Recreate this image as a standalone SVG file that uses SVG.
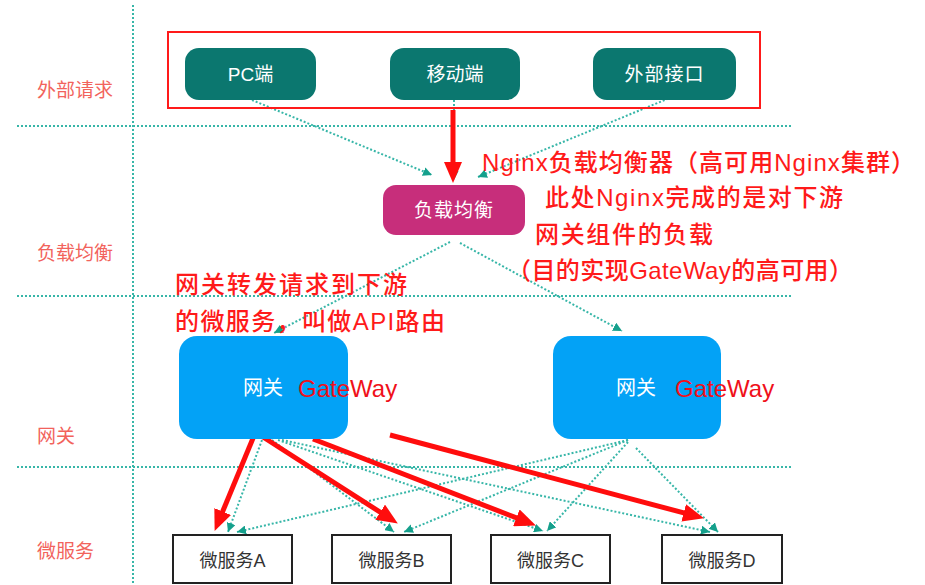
<svg xmlns="http://www.w3.org/2000/svg" width="925" height="585" viewBox="0 0 925 585">
<defs>
<style>
text{font-family:"Liberation Sans","Noto Sans CJK SC",sans-serif;}
.grid{stroke:#37b6a8;stroke-width:2;stroke-dasharray:2 2;fill:none;}
.dot{stroke:#37b6a8;stroke-width:2;stroke-dasharray:2 2;fill:none;marker-end:url(#ta);}
.red{stroke:#ff0d0d;stroke-width:5;fill:none;marker-end:url(#ra);}
.lane{fill:#f2635c;font-size:19px;}
.client{fill:#0b776f;}
.nt{fill:#ffffff;font-size:19px;text-anchor:middle;}
.gw{fill:#03a2f6;}
.ms{fill:#ffffff;stroke:#222;stroke-width:2;}
.mst{fill:#333;font-size:18px;text-anchor:middle;}
.ann{fill:#ff1a1a;font-size:24px;font-weight:500;}
.gwr{fill:#f0101a;font-size:24px;}
</style>
<marker id="ta" markerUnits="userSpaceOnUse" markerWidth="10" markerHeight="9" refX="9" refY="4.5" orient="auto">
<path d="M0,0 L9,4.5 L0,9 z" fill="#15a08c"/>
</marker>
<marker id="ra" markerUnits="userSpaceOnUse" markerWidth="22" markerHeight="18" refX="8" refY="9" orient="auto">
<path d="M0,0 L21,9 L0,18 z" fill="#ff0d0d"/>
</marker>
</defs>

<g id="grid">
<line class="grid" x1="133" y1="5" x2="133" y2="585"/>
<line class="grid" x1="17" y1="126" x2="792" y2="126"/>
<line class="grid" x1="17" y1="296" x2="792" y2="296"/>
<line class="grid" x1="17" y1="467" x2="792" y2="467"/>
</g>

<g id="lanes">
<text class="lane" x="37" y="97">外部请求</text>
<text class="lane" x="37" y="260">负载均衡</text>
<text class="lane" x="37" y="443">网关</text>
<text class="lane" x="37" y="558">微服务</text>
</g>

<g id="connectors">
<line class="dot" x1="252" y1="100" x2="432" y2="175"/>
<line class="dot" x1="454" y1="100" x2="454" y2="180"/>
<line class="dot" x1="672" y1="97" x2="478" y2="177"/>
<line class="dot" x1="450" y1="242" x2="274" y2="333"/>
<line class="dot" x1="460" y1="243" x2="622" y2="331"/>
<line class="dot" x1="262" y1="440" x2="228" y2="532"/>
<line class="dot" x1="272" y1="440" x2="394" y2="532"/>
<line class="dot" x1="278" y1="440" x2="543" y2="531"/>
<line class="dot" x1="282" y1="440" x2="710" y2="532"/>
<line class="dot" x1="628" y1="440" x2="237" y2="532"/>
<line class="dot" x1="628" y1="440" x2="404" y2="532"/>
<line class="dot" x1="628" y1="442" x2="547" y2="531"/>
<line class="dot" x1="636" y1="448" x2="718" y2="532"/>
<line class="red" x1="453" y1="110" x2="453" y2="170"/>
<line class="red" x1="256" y1="431" x2="219.6" y2="518.9"/>
<line class="red" x1="263" y1="437" x2="386.9" y2="516.5"/>
<line class="red" x1="313" y1="439" x2="523.8" y2="520.7"/>
<line class="red" x1="390" y1="435" x2="691.4" y2="514.9"/>
</g>

<g id="clients-box">
<rect x="168" y="32" width="592" height="76" fill="none" stroke="#ff1a1a" stroke-width="2"/>
</g>

<g id="pc">
<rect class="client" x="185" y="48" width="131" height="52" rx="14"/>
<text class="nt" x="250.5" y="81">PC端</text>
</g>
<g id="mobile">
<rect class="client" x="390" y="48" width="130" height="52" rx="14"/>
<text class="nt" x="455" y="81">移动端</text>
</g>
<g id="api">
<rect class="client" x="593" y="48" width="143" height="52" rx="14"/>
<text class="nt" x="664.5" y="81" letter-spacing="1">外部接口</text>
</g>

<g id="lb">
<rect x="383" y="185" width="142" height="50" rx="13" fill="#c72e7b"/>
<text class="nt" x="454" y="217" letter-spacing="1">负载均衡</text>
</g>

<g id="gw1">
<rect class="gw" x="179" y="336" width="169" height="103" rx="18"/>
<text x="243" y="395" fill="#ffffff" font-size="20">网关</text>
<text class="gwr" x="298" y="397">GateWay</text>
</g>
<g id="gw2">
<rect class="gw" x="553" y="336" width="168" height="103" rx="18"/>
<text x="616" y="395" fill="#ffffff" font-size="20">网关</text>
<text class="gwr" x="675" y="397">GateWay</text>
</g>

<g id="msA">
<rect class="ms" x="173" y="535" width="119" height="48"/>
<text class="mst" x="232.5" y="567">微服务A</text>
</g>
<g id="msB">
<rect class="ms" x="332" y="535" width="119" height="48"/>
<text class="mst" x="391.5" y="567">微服务B</text>
</g>
<g id="msC">
<rect class="ms" x="491" y="535" width="119" height="48"/>
<text class="mst" x="550.5" y="567">微服务C</text>
</g>
<g id="msD">
<rect class="ms" x="662" y="535" width="120" height="48"/>
<text class="mst" x="722" y="567">微服务D</text>
</g>

<g id="annotations">
<text class="ann" x="482" y="171" textLength="433" lengthAdjust="spacing">Nginx负载均衡器（高可用Nginx集群）</text>
<text class="ann" x="545" y="206" textLength="298" lengthAdjust="spacing">此处Nginx完成的是对下游</text>
<text class="ann" x="535" y="243" textLength="178" lengthAdjust="spacing">网关组件的负载</text>
<text class="ann" x="507" y="279" textLength="346" lengthAdjust="spacing">（目的实现GateWay的高可用）</text>
<text class="ann" x="175" y="293" textLength="232" lengthAdjust="spacing">网关转发请求到下游</text>
<text class="ann" x="175" y="330" textLength="270" lengthAdjust="spacing">的微服务，叫做API路由</text>
</g>
</svg>
